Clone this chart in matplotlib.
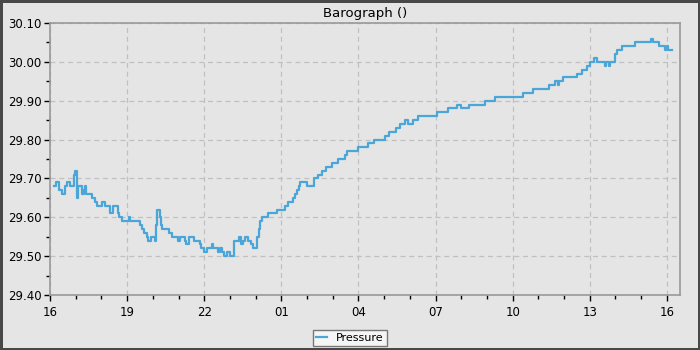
import matplotlib
matplotlib.use('Agg')
import matplotlib.pyplot as plt
from matplotlib.ticker import MultipleLocator, FuncFormatter

# hours since 16:00 on day 1, and pressure (inHg)
hours = [0.16, 0.23, 0.35, 0.47, 0.58, 0.66, 0.78, 0.93, 0.97, 1.05, 1.09, 1.25, 1.32, 1.36, 1.40,
         1.63, 1.75, 1.83, 2.02, 2.14, 2.33, 2.45, 2.65, 2.68, 2.80, 3.07, 3.11, 3.50, 3.58, 3.66,
         3.77, 3.81, 3.93, 4.09, 4.12, 4.16, 4.28, 4.32, 4.36, 4.63, 4.75, 4.98, 5.06, 5.25, 5.29,
         5.41, 5.60, 5.84, 5.88, 6.00, 6.11, 6.30, 6.34, 6.54, 6.61, 6.69, 6.77, 6.89, 7.00, 7.16,
         7.35, 7.43, 7.51, 7.59, 7.70, 7.82, 7.90, 8.05, 8.13, 8.17, 8.25, 8.48, 8.83, 9.14, 9.26,
         9.46, 9.53, 9.61, 9.69, 9.73, 10.00, 10.27, 10.43, 10.58, 10.74, 10.97, 11.21, 11.48, 11.56,
         11.98, 12.37, 12.61, 13.04, 13.19, 13.46, 13.62, 13.81, 13.93, 14.12, 14.32, 15.06, 15.49,
         15.84, 16.00, 16.30, 16.93, 17.32, 18.40, 18.79, 19.42, 19.65, 19.77, 19.81, 19.96, 20.51,
         20.70, 20.89, 21.01, 21.17, 21.28, 21.60, 21.63, 21.75, 21.79, 21.98, 22.06, 22.26, 22.76,
         23.39, 23.46, 23.70, 23.93, 24.01, 24.05, 24.20]
pressure = [29.68, 29.69, 29.67, 29.66, 29.68, 29.69, 29.68, 29.71, 29.72, 29.65, 29.68, 29.66, 29.67, 29.68, 29.66,
            29.65, 29.64, 29.63, 29.64, 29.63, 29.61, 29.63, 29.61, 29.60, 29.59, 29.60, 29.59, 29.58, 29.57, 29.56,
            29.55, 29.54, 29.55, 29.54, 29.58, 29.62, 29.60, 29.58, 29.57, 29.56, 29.55, 29.54, 29.55, 29.54, 29.53,
            29.55, 29.54, 29.53, 29.52, 29.51, 29.52, 29.53, 29.52, 29.51, 29.52, 29.51, 29.50, 29.51, 29.50, 29.54,
            29.55, 29.53, 29.54, 29.55, 29.54, 29.53, 29.52, 29.55, 29.57, 29.59, 29.60, 29.61, 29.62, 29.63, 29.64,
            29.65, 29.66, 29.67, 29.68, 29.69, 29.68, 29.70, 29.71, 29.72, 29.73, 29.74, 29.75, 29.76, 29.77,
            29.78, 29.79, 29.80, 29.81, 29.82, 29.83, 29.84, 29.85, 29.84, 29.85, 29.86, 29.87, 29.88,
            29.89, 29.88, 29.89, 29.90, 29.91, 29.92, 29.93, 29.94, 29.95, 29.94, 29.95, 29.96, 29.97,
            29.98, 29.99, 30.00, 30.01, 30.00, 29.99, 30.00, 29.99, 30.00, 30.02, 30.03, 30.04, 30.05,
            30.06, 30.05, 30.04, 30.03, 30.04, 30.03, 30.03]

start_hour = 16
bg = '#e5e5e5'

fig = plt.figure(figsize=(7, 3.5), dpi=100, facecolor=bg, edgecolor='#484848', linewidth=2.5)
ax = fig.add_axes([50/700, 1 - 295/350, 630/700, 272/350])
ax.set_facecolor(bg)

ax.plot(hours, pressure, drawstyle='steps-post', color='#4aa6d9', lw=1.6, label='Pressure')

ax.set_xlim(0, 24.51)
ax.set_ylim(29.40, 30.10)
ax.xaxis.set_major_locator(MultipleLocator(3))
ax.xaxis.set_minor_locator(MultipleLocator(1))
ax.xaxis.set_major_formatter(FuncFormatter(lambda v, p: '%02d' % ((start_hour + int(round(v))) % 24)))
ax.yaxis.set_major_locator(MultipleLocator(0.1))
ax.yaxis.set_minor_locator(MultipleLocator(0.05))
ax.yaxis.set_major_formatter(FuncFormatter(lambda v, p: '%.2f' % v))

ax.grid(True, which='major', color='#c0c0c0', linestyle=(0, (4, 3)), lw=0.9)
for s in ax.spines.values():
    s.set_color('#999999')
    s.set_linewidth(1.2)
ax.tick_params(which='both', direction='out', colors='black', labelsize=8.5, width=1)
ax.tick_params(which='major', length=4)
ax.tick_params(which='minor', length=3)
ax.tick_params(axis='x', pad=4)
ax.tick_params(axis='y', pad=2)

ax.set_title('Barograph ()', fontsize=9.5, pad=4)

leg = fig.legend(loc='center', bbox_to_anchor=(350/700, 1 - 338/350), fontsize=8,
                 fancybox=False, framealpha=1, handlelength=1, handletextpad=0.8,
                 borderpad=0.3)
leg.get_frame().set_facecolor('#f5f5f5')
leg.get_frame().set_edgecolor('#777777')

fig.savefig('out.png', dpi=100, facecolor=bg, edgecolor='#484848')
